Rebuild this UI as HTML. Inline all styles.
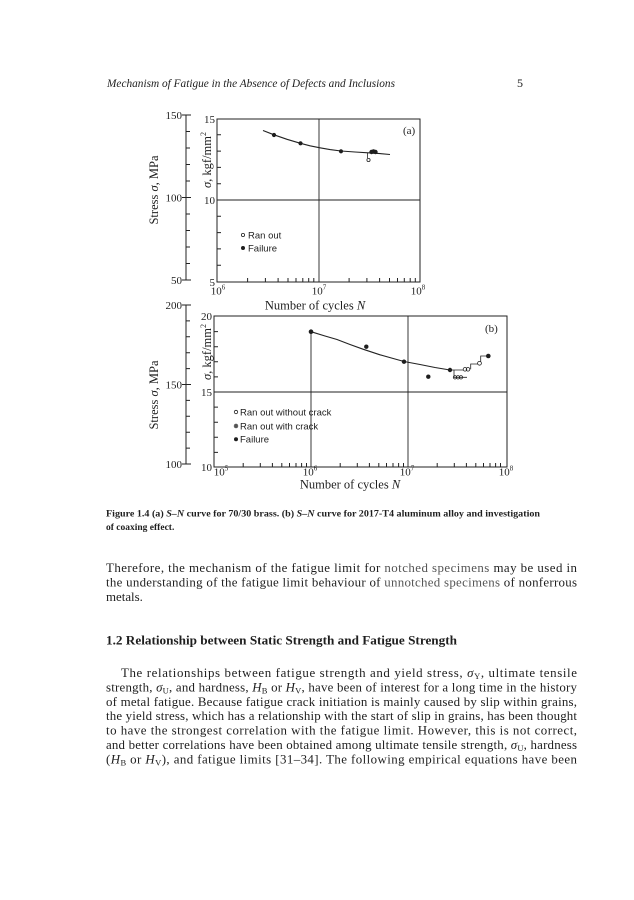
<!DOCTYPE html>
<html><head><meta charset="utf-8"><style>
html,body{margin:0;padding:0;background:#fff;}
svg{display:block;}
text{font-family:"Liberation Serif",serif;fill:#1e1e1e;}
.s{font-family:"Liberation Sans",sans-serif;}
</style></head><body>
<svg width="634" height="900" viewBox="0 0 634 900" xmlns="http://www.w3.org/2000/svg">
<rect width="634" height="900" fill="#fff"/>
<!-- header -->
<text x="107" y="87" font-size="11.5" font-style="italic" textLength="288" lengthAdjust="spacingAndGlyphs">Mechanism of Fatigue in the Absence of Defects and Inclusions</text>
<text x="517" y="87" font-size="12">5</text>

<!-- ===== Chart (a) ===== -->
<g stroke="#222" fill="none" stroke-width="1">
<line x1="186" y1="114.5" x2="186" y2="280.5"/>
<path d="M186 115H191M186 197.5H191M186 280H191M182 115H186M182 197.5H186M182 280H186"/>
<path d="M186 263.5H190M186 247H190M186 230.5H190M186 214H190M186 181H190M186 164.5H190M186 148H190M186 131.5H190"/>
<rect x="217" y="119" width="203" height="163"/>
<line x1="217" y1="200" x2="420" y2="200" stroke-width="0.9"/>
<line x1="319" y1="119" x2="319" y2="282" stroke-width="0.9"/>
<path d="M217 183.7H221M217 167.4H221M217 151.1H221M217 134.8H221M217 216.3H221M217 232.6H221M217 248.9H221M217 265.2H221"/>
<path d="M247.6 282V278M265.4 282V278M278.1 282V278M288 282V278M296 282V278M302.8 282V278M308.7 282V278M313.8 282V278M349.1 282V278M366.9 282V278M379.6 282V278M389.5 282V278M397.5 282V278M404.3 282V278M410.2 282V278M415.3 282V278"/>
<polyline stroke-width="1.1" points="263,130.5 274,134.8 287,139.3 300,143.2 310,145.8 320,147.8 330,149.6 341,151 355,152 368,152.8 380,153.6 390,154.5"/>
<path d="M367.5 152.5V158" stroke-width="0.8"/>
<circle cx="368.5" cy="160" r="1.6" stroke-width="0.8"/>
<circle cx="243" cy="235" r="1.6" stroke-width="0.8"/>
</g>
<g fill="#1e1e1e">
<circle cx="274" cy="135" r="2.1"/>
<circle cx="300.5" cy="143.3" r="2.1"/>
<circle cx="341" cy="151.3" r="2.1"/>
<circle cx="371.5" cy="152" r="2.2"/>
<circle cx="373.5" cy="151.5" r="2.2"/>
<circle cx="375.5" cy="152" r="2.2"/>
<circle cx="243" cy="248" r="2"/>
</g>
<text x="403" y="134" font-size="11">(a)</text>
<text x="248" y="238.3" font-size="9.5" class="s">Ran out</text>
<text x="248" y="251.5" font-size="9.5" class="s">Failure</text>
<g font-size="11" text-anchor="end">
<text x="215" y="123">15</text>
<text x="215" y="204">10</text>
<text x="215" y="286">5</text>
<text x="182" y="119">150</text>
<text x="182" y="201.5">100</text>
<text x="182" y="284">50</text>
</g>
<g font-size="11" text-anchor="middle">
<text x="218" y="294.5">10<tspan font-size="7" dy="-5">6</tspan></text>
<text x="319" y="294.5">10<tspan font-size="7" dy="-5">7</tspan></text>
<text x="418" y="294.5">10<tspan font-size="7" dy="-5">8</tspan></text>
</g>
<text x="315" y="309.5" font-size="12.5" text-anchor="middle">Number of cycles <tspan font-style="italic">N</tspan></text>
<text transform="translate(211,160) rotate(-90)" font-size="12.5" text-anchor="middle"><tspan font-style="italic">σ</tspan>, kgf/mm<tspan font-size="8" dy="-5">2</tspan></text>
<text transform="translate(158,190) rotate(-90)" font-size="12.5" text-anchor="middle">Stress  <tspan font-style="italic">σ</tspan>,  MPa</text>

<!-- ===== Chart (b) ===== -->
<g stroke="#222" fill="none" stroke-width="1">
<line x1="186" y1="305" x2="186" y2="464"/>
<path d="M182 305H191M182 384.5H191M182 464H191"/>
<path d="M186 448.1H190M186 432.2H190M186 416.3H190M186 400.4H190M186 368.6H190M186 352.7H190M186 336.8H190M186 320.9H190"/>
<rect x="214" y="316" width="293" height="151"/>
<line x1="214" y1="392" x2="507" y2="392" stroke-width="0.9"/>
<line x1="408" y1="316" x2="408" y2="467" stroke-width="0.9"/>
<line x1="311" y1="332" x2="311" y2="467" stroke-width="0.9"/>
<path d="M214 376.9H218M214 361.8H218M214 346.7H218M214 331.6H218M214 407.1H218M214 422.2H218M214 437.3H218M214 452.4H218"/>
<path d="M243.2 467V463M260.3 467V463M272.4 467V463M281.8 467V463M289.5 467V463M296 467V463M301.6 467V463M306.5 467V463M340.2 467V463M357.3 467V463M369.4 467V463M378.8 467V463M386.5 467V463M393 467V463M398.6 467V463M403.5 467V463M437.2 467V463M454.3 467V463M466.4 467V463M475.8 467V463M483.5 467V463M490 467V463M495.6 467V463M500.5 467V463"/>
<polyline stroke-width="1.1" points="311,331.7 325,336 337,339.5 350,344.5 363,349.2 380,354.8 395,359 404,361.5 420,364.5 435,367.5 450,370"/>
<path d="M450 370H463M454 370V377.3H467M470.7 369.3V364H478M480.7 361.7V356H488" stroke-width="0.8"/>
<circle cx="455" cy="377.3" r="1.7" stroke-width="0.8"/>
<circle cx="458" cy="377.3" r="1.7" stroke-width="0.8"/>
<circle cx="461" cy="377.3" r="1.7" stroke-width="0.8"/>
<circle cx="465" cy="369.3" r="1.8" stroke-width="0.8"/>
<circle cx="468" cy="369.3" r="1.8" stroke-width="0.8"/>
<circle cx="479.5" cy="363.3" r="1.9" stroke-width="0.8"/>
<circle cx="236" cy="412" r="1.7" stroke-width="0.8"/>
<circle cx="236" cy="426" r="1.8" stroke-width="0.8"/>
</g>
<g fill="#1e1e1e">
<circle cx="311" cy="331.7" r="2.3"/>
<circle cx="366.3" cy="346.7" r="2.2"/>
<circle cx="404" cy="361.7" r="2.2"/>
<circle cx="428.3" cy="376.7" r="2.2"/>
<circle cx="450" cy="370" r="2.2"/>
<circle cx="488.3" cy="356" r="2.3"/>
<circle cx="236" cy="426" r="1"/>
<circle cx="236" cy="439.3" r="2"/>
</g>
<text x="485" y="332" font-size="11">(b)</text>
<text x="240" y="415.3" font-size="9.5" class="s">Ran out without crack</text>
<text x="240" y="429.3" font-size="9.5" class="s">Ran out with crack</text>
<text x="240" y="442.6" font-size="9.5" class="s">Failure</text>
<g font-size="11" text-anchor="end">
<text x="212" y="320">20</text>
<text x="212" y="396">15</text>
<text x="212" y="471">10</text>
<text x="182" y="309">200</text>
<text x="182" y="388.5">150</text>
<text x="182" y="468">100</text>
</g>
<g font-size="11" text-anchor="middle">
<text x="221" y="475.5">10<tspan font-size="7" dy="-5">5</tspan></text>
<text x="310" y="475.5">10<tspan font-size="7" dy="-5">6</tspan></text>
<text x="407" y="475.5">10<tspan font-size="7" dy="-5">7</tspan></text>
<text x="506" y="475.5">10<tspan font-size="7" dy="-5">8</tspan></text>
</g>
<text x="350" y="488.5" font-size="12.5" text-anchor="middle">Number of cycles <tspan font-style="italic">N</tspan></text>
<text transform="translate(211,352) rotate(-90)" font-size="12.5" text-anchor="middle"><tspan font-style="italic">σ</tspan>, kgf/mm<tspan font-size="8" dy="-5">2</tspan></text>
<text transform="translate(158,395) rotate(-90)" font-size="12.5" text-anchor="middle">Stress  <tspan font-style="italic">σ</tspan>,  MPa</text>

<!-- caption -->
<text x="106" y="516.5" font-size="9.5" font-weight="bold" textLength="434" lengthAdjust="spacingAndGlyphs">Figure 1.4  (a) <tspan font-style="italic">S–N</tspan> curve for 70/30 brass. (b) <tspan font-style="italic">S–N</tspan> curve for 2017-T4 aluminum alloy and investigation</text>
<text x="106" y="530" font-size="9.5" font-weight="bold">of coaxing effect.</text>

<!-- paragraph 1 -->
<g font-size="12.9">
<text x="106" y="572" textLength="471" lengthAdjust="spacing">Therefore, the mechanism of the fatigue limit for <tspan fill="#555">notched specimens</tspan> may be used in</text>
<text x="106" y="586.4" textLength="471" lengthAdjust="spacing">the understanding of the fatigue limit behaviour of <tspan fill="#555">unnotched specimens</tspan> of nonferrous</text>
<text x="106" y="600.8">metals.</text>
</g>

<!-- heading -->
<text x="106" y="644.5" font-size="13" font-weight="bold" textLength="351" lengthAdjust="spacingAndGlyphs">1.2  Relationship between Static Strength and Fatigue Strength</text>

<!-- paragraph 2 -->
<g font-size="12.9">
<text x="121" y="677" textLength="456" lengthAdjust="spacing">The relationships between fatigue strength and yield stress, <tspan font-style="italic">σ</tspan><tspan font-size="8.5" dy="2">Y</tspan><tspan dy="-2">, ultimate tensile</tspan></text>
<text x="106" y="691.4" textLength="471" lengthAdjust="spacing">strength, <tspan font-style="italic">σ</tspan><tspan font-size="8.5" dy="2">U</tspan><tspan dy="-2">, and hardness, </tspan><tspan font-style="italic">H</tspan><tspan font-size="8.5" dy="2">B</tspan><tspan dy="-2"> or </tspan><tspan font-style="italic">H</tspan><tspan font-size="8.5" dy="2">V</tspan><tspan dy="-2">, have been of interest for a long time in the history</tspan></text>
<text x="106" y="705.8" textLength="471" lengthAdjust="spacing">of metal fatigue. Because fatigue crack initiation is mainly caused by slip within grains,</text>
<text x="106" y="720.2" textLength="471" lengthAdjust="spacing">the yield stress, which has a relationship with the start of slip in grains, has been thought</text>
<text x="106" y="734.6" textLength="471" lengthAdjust="spacing">to have the strongest correlation with the fatigue limit. However, this is not correct,</text>
<text x="106" y="749" textLength="471" lengthAdjust="spacing">and better correlations have been obtained among ultimate tensile strength, <tspan font-style="italic">σ</tspan><tspan font-size="8.5" dy="2">U</tspan><tspan dy="-2">, hardness</tspan></text>
<text x="106" y="763.4" textLength="471" lengthAdjust="spacing">(<tspan font-style="italic">H</tspan><tspan font-size="8.5" dy="2">B</tspan><tspan dy="-2"> or </tspan><tspan font-style="italic">H</tspan><tspan font-size="8.5" dy="2">V</tspan><tspan dy="-2">), and fatigue limits [31–34]. The following empirical equations have been</tspan></text>
</g>
</svg>
</body></html>
